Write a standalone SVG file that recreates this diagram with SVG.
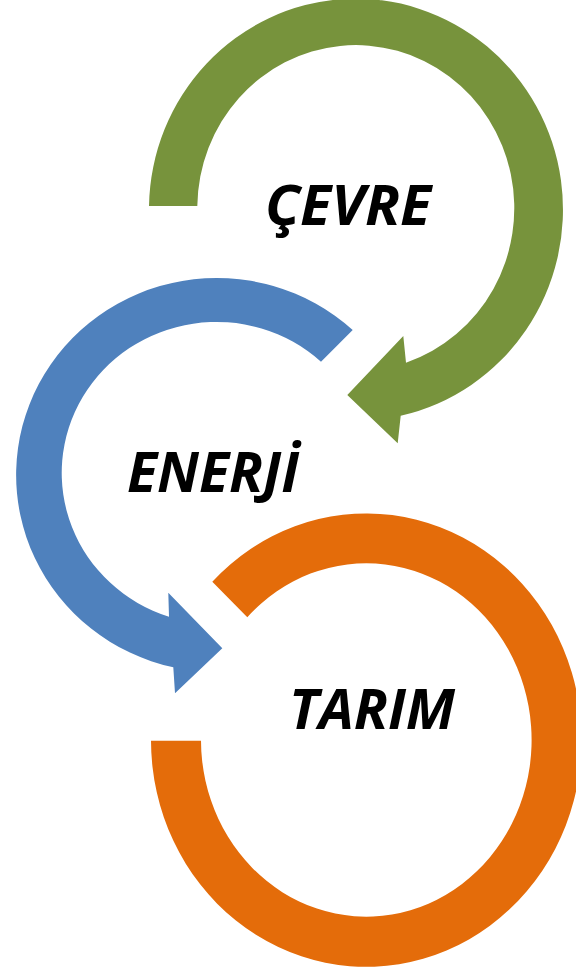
<svg xmlns="http://www.w3.org/2000/svg" width="576" height="973" viewBox="0 0 576 973">
  <style>
    .lbl { font-family: "Open Sans", "Liberation Sans", sans-serif; font-weight: 700; font-style: italic; font-size: 56px; fill: #000000; }
    .green { fill: #77933C; }
    .blue { fill: #4F81BD; }
    .orange { fill: #E46C0A; }
  </style>
  <rect width="576" height="973" fill="#FFFFFF"/>
  <g id="node-cevre">
    <path class="green" d="M149,206 A207,211 0 1 1 400.7,415.7 L397.7,443.3 L347.3,395 L403.3,336 L406,362.7 A158.5,163 0 1 0 197.3,206 Z"/>
    <text class="lbl" x="265" y="225" textLength="166" lengthAdjust="spacingAndGlyphs">ÇEVRE</text>
  </g>
  <g id="node-enerji">
    <path class="blue" d="M352.7,330 A200.7,197 0 1 0 173.3,667.3 L175,693.3 L222.3,648.3 L168.3,592.7 L169,616.7 A154.7,151 0 1 1 321,361.7 Z"/>
    <text class="lbl" x="127" y="491.7" textLength="172" lengthAdjust="spacingAndGlyphs">ENERJİ</text>
  </g>
  <g id="node-tarim">
    <path class="orange" d="M212.3,581.7 A215.3,226.7 0 1 1 151,740.7 L201,740.7 A165.3,176.7 0 1 0 247.3,617.3 Z"/>
    <text class="lbl" x="289" y="729.3" textLength="166" lengthAdjust="spacingAndGlyphs">TARIM</text>
  </g>
</svg>
